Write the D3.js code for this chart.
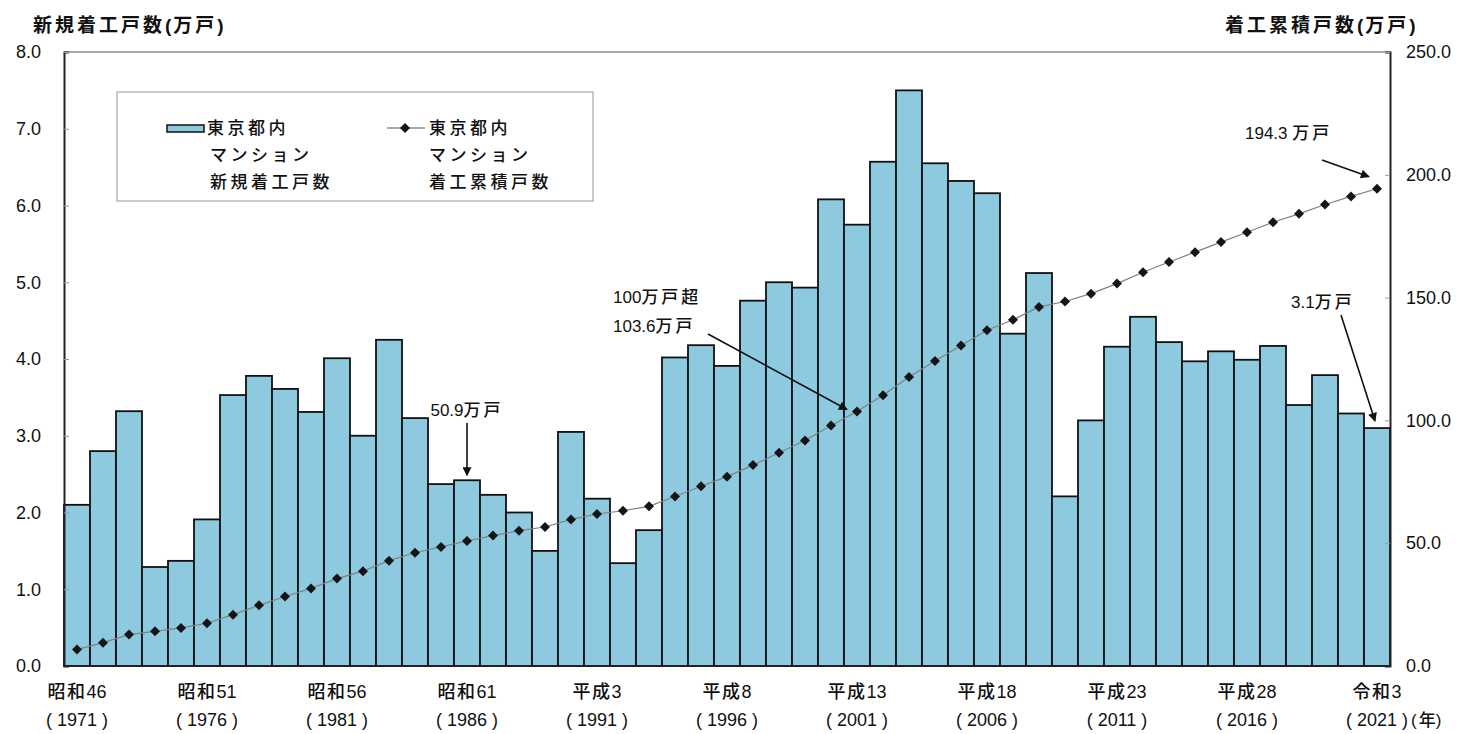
<!DOCTYPE html>
<html>
<head>
<meta charset="utf-8">
<script src="https://cdn.jsdelivr.net/npm/d3@7"></script>
<style>
  body { margin: 0; background: #fff; }
  svg { display: block; }
  text { font-family: "Liberation Sans", "Noto Sans CJK JP", sans-serif; fill: #111; }
</style>
</head>
<body>
<svg id="chart" width="1459" height="734"></svg>
<script>
// 東京都内マンション 新規着工戸数(万戸) と 着工累積戸数(万戸)
const years = [
  1971, 1972, 1973, 1974, 1975, 1976, 1977, 1978, 1979, 1980,
  1981, 1982, 1983, 1984, 1985, 1986, 1987, 1988, 1989, 1990,
  1991, 1992, 1993, 1994, 1995, 1996, 1997, 1998, 1999, 2000,
  2001, 2002, 2003, 2004, 2005, 2006, 2007, 2008, 2009, 2010,
  2011, 2012, 2013, 2014, 2015, 2016, 2017, 2018, 2019, 2020, 2021
];
const newStarts = [
  2.10, 2.80, 3.32, 1.29, 1.37, 1.91, 3.53, 3.78, 3.61, 3.31,
  4.01, 3.00, 4.25, 3.23, 2.37, 2.42, 2.23, 2.00, 1.50, 3.05,
  2.18, 1.34, 1.77, 4.02, 4.18, 3.91, 4.76, 5.00, 4.93, 6.08,
  5.75, 6.57, 7.50, 6.55, 6.32, 6.16, 4.33, 5.12, 2.21, 3.20,
  4.16, 4.55, 4.22, 3.97, 4.10, 3.99, 4.17, 3.40, 3.79, 3.29, 3.10
];
const cumulative = [
  6.7, 9.5, 12.8, 14.1, 15.5, 17.4, 20.9, 24.7, 28.3, 31.6,
  35.6, 38.6, 42.9, 46.1, 48.5, 50.9, 53.1, 55.1, 56.6, 59.7,
  61.9, 63.2, 65.0, 69.0, 73.2, 77.1, 81.8, 86.8, 91.8, 97.9,
  103.6, 110.2, 117.7, 124.2, 130.5, 136.7, 141.0, 146.2, 148.4, 151.6,
  155.7, 160.3, 164.5, 168.5, 172.6, 176.6, 180.7, 184.1, 187.9, 191.2, 194.3
];
const eraLabels = ["昭和46", "昭和51", "昭和56", "昭和61", "平成3", "平成8",
                   "平成13", "平成18", "平成23", "平成28", "令和3"];
const labelYears = [1971, 1976, 1981, 1986, 1991, 1996, 2001, 2006, 2011, 2016, 2021];
const leftTicks = [0, 1, 2, 3, 4, 5, 6, 7, 8];
const rightTicks = [0, 50, 100, 150, 200, 250];

const plot = { left: 64, right: 1390, top: 52, bottom: 666 };
const barFill = "#8dcadf";

const svg = d3.select("#chart");

const x = d3.scaleBand().domain(years).range([plot.left, plot.right]).padding(0);
const yL = d3.scaleLinear().domain([0, 8]).range([plot.bottom, plot.top]);
const yR = d3.scaleLinear().domain([0, 250]).range([plot.bottom, plot.top]);
const cx = yr => x(yr) + x.bandwidth() / 2;

// writes a string into a text element, spacing out only the CJK runs
const isCJK = ch => /[\u3000-\u30ff\u4e00-\u9fff\uff00-\uffef]/.test(ch);
function richText(sel, str, cjkSpacing, otherSpacing) {
  const runs = [];
  for (const ch of str) {
    const c = isCJK(ch);
    if (runs.length && runs[runs.length - 1].c === c) runs[runs.length - 1].s += ch;
    else runs.push({ c, s: ch });
  }
  runs.forEach(r => {
    sel.append("tspan")
      .attr("letter-spacing", r.c ? cjkSpacing : (otherSpacing || 0))
      .text(r.s);
  });
  return sel;
}

// arrowhead
svg.append("defs").append("marker")
  .attr("id", "arrow").attr("viewBox", "0 0 10 10")
  .attr("refX", 9).attr("refY", 5)
  .attr("markerWidth", 12).attr("markerHeight", 9)
  .attr("markerUnits", "userSpaceOnUse")
  .attr("orient", "auto")
  .append("path").attr("d", "M0,0 L10,5 L0,10 Z").attr("fill", "#111");

// bars
svg.append("g").selectAll("rect")
  .data(years)
  .join("rect")
  .attr("x", d => x(d))
  .attr("y", (d, i) => yL(newStarts[i]))
  .attr("width", x.bandwidth())
  .attr("height", (d, i) => yL(0) - yL(newStarts[i]))
  .attr("fill", barFill)
  .attr("stroke", "#111")
  .attr("stroke-width", 1.8);

// cumulative line
const line = d3.line().x((d, i) => cx(years[i])).y(d => yR(d));
svg.append("path")
  .datum(cumulative)
  .attr("d", line)
  .attr("fill", "none")
  .attr("stroke", "#808080")
  .attr("stroke-width", 1.2);

const diamond = r => `M0,${-r} L${r},0 L0,${r} L${-r},0 Z`;
svg.append("g").selectAll("path")
  .data(cumulative)
  .join("path")
  .attr("d", diamond(5))
  .attr("transform", (d, i) => `translate(${cx(years[i])},${yR(d)})`)
  .attr("fill", "#151515");

// frame
svg.append("line")
  .attr("x1", plot.left).attr("x2", plot.right)
  .attr("y1", plot.top).attr("y2", plot.top)
  .attr("stroke", "#8a8a8a").attr("stroke-width", 1.5);

// left axis
const axL = svg.append("g")
  .attr("transform", `translate(${plot.left},0)`)
  .call(d3.axisLeft(yL).tickValues(leftTicks).tickSize(-5).tickPadding(23)
    .tickFormat(d3.format(".1f")));
axL.select(".domain").attr("stroke", "#222").attr("stroke-width", 2);
axL.selectAll(".tick line").attr("stroke", "#999");
axL.selectAll(".tick text").attr("font-size", 18).attr("fill", "#111")
  .style("font-family", "'Liberation Sans', sans-serif");

// right axis
const axR = svg.append("g")
  .attr("transform", `translate(${plot.right},0)`)
  .call(d3.axisRight(yR).tickValues(rightTicks).tickSize(-5).tickPadding(16)
    .tickFormat(d3.format(".1f")));
axR.select(".domain").attr("stroke", "#222").attr("stroke-width", 2);
axR.selectAll(".tick line").attr("stroke", "#999");
axR.selectAll(".tick text").attr("font-size", 18).attr("fill", "#111")
  .style("font-family", "'Liberation Sans', sans-serif");

// baseline
svg.append("line")
  .attr("x1", plot.left).attr("x2", plot.right)
  .attr("y1", plot.bottom).attr("y2", plot.bottom)
  .attr("stroke", "#222").attr("stroke-width", 2);

// x labels (era and western year)
const xl = svg.append("g");
labelYears.forEach((yr, i) => {
  richText(xl.append("text")
    .attr("x", cx(yr)).attr("y", 692)
    .attr("text-anchor", "middle").attr("dominant-baseline", "central")
    .attr("font-size", 18).attr("font-weight", 500), eraLabels[i], 1.5, 0);
  xl.append("text")
    .attr("x", cx(yr)).attr("y", 720)
    .attr("text-anchor", "middle").attr("dominant-baseline", "central")
    .attr("font-size", 18)
    .text(`( ${yr} )`);
});
richText(xl.append("text")
  .attr("x", cx(2021) + 34).attr("y", 720)
  .attr("dominant-baseline", "central")
  .attr("font-size", 17).attr("font-weight", 500), "(年)", 0, 2);

// axis titles
richText(svg.append("text")
  .attr("x", 33).attr("y", 25).attr("dominant-baseline", "central")
  .attr("font-size", 19).attr("font-weight", 700), "新規着工戸数(万戸)", 3, 2);
richText(svg.append("text")
  .attr("x", 1225).attr("y", 25).attr("dominant-baseline", "central")
  .attr("font-size", 19).attr("font-weight", 700), "着工累積戸数(万戸)", 3, 2);

// legend
const lg = svg.append("g");
lg.append("rect")
  .attr("x", 117).attr("y", 92).attr("width", 476).attr("height", 109)
  .attr("fill", "#fff").attr("stroke", "#a8a8a8").attr("stroke-width", 1.2);
lg.append("rect")
  .attr("x", 167).attr("y", 125).attr("width", 37).attr("height", 7)
  .attr("fill", barFill).attr("stroke", "#111").attr("stroke-width", 1.5);
const barLegend = ["東京都内", "マンション", "新規着工戸数"];
const lineLegend = ["東京都内", "マンション", "着工累積戸数"];
const rowsY = [128, 155, 182];
barLegend.forEach((t, i) => {
  lg.append("text").attr("x", i === 0 ? 207 : 210).attr("y", rowsY[i])
    .attr("dominant-baseline", "central").attr("font-weight", 500)
    .attr("font-size", 17).attr("letter-spacing", 3.5).text(t);
});
lg.append("line")
  .attr("x1", 387).attr("x2", 425).attr("y1", 128).attr("y2", 128)
  .attr("stroke", "#555").attr("stroke-width", 1.2);
lg.append("path").attr("d", diamond(5))
  .attr("transform", "translate(405,128)").attr("fill", "#151515");
lineLegend.forEach((t, i) => {
  lg.append("text").attr("x", 429).attr("y", rowsY[i])
    .attr("dominant-baseline", "central").attr("font-weight", 500)
    .attr("font-size", 17).attr("letter-spacing", 3.5).text(t);
});

// annotations
const ann = svg.append("g");
function note(tx, ty, str, anchor) {
  richText(ann.append("text").attr("x", tx).attr("y", ty)
    .attr("text-anchor", anchor || "start").attr("dominant-baseline", "central")
    .attr("font-size", 17).attr("font-weight", 500), str, 3, 0);
}
function arrow(x1, y1, x2, y2) {
  ann.append("line")
    .attr("x1", x1).attr("y1", y1).attr("x2", x2).attr("y2", y2)
    .attr("stroke", "#111").attr("stroke-width", 1.6)
    .attr("marker-end", "url(#arrow)");
}
const i1986 = years.indexOf(1986), i2001 = years.indexOf(2001), i2021 = years.indexOf(2021);

// 1986: cumulative passes 50万戸
note(cx(1986), 410, `${cumulative[i1986].toFixed(1)}万戸`, "middle");
arrow(cx(1986), 423, cx(1986), yL(newStarts[i1986]) - 5);

// 2001: cumulative passes 100万戸
note(613, 297, "100万戸超");
note(613, 326, `${cumulative[i2001].toFixed(1)}万戸`);
arrow(708, 334, cx(2001) - 10, yR(cumulative[i2001]) - 2);

// 2021: cumulative total and latest starts
note(1245, 133, `${cumulative[i2021].toFixed(1)} 万戸`);
arrow(1322, 160, cx(2021) - 8, yR(cumulative[i2021]) - 12);
note(1291, 302, `${newStarts[i2021].toFixed(1)}万戸`);
arrow(1341, 315, cx(2021) - 2, yL(newStarts[i2021]) - 7);
</script>
</body>
</html>
